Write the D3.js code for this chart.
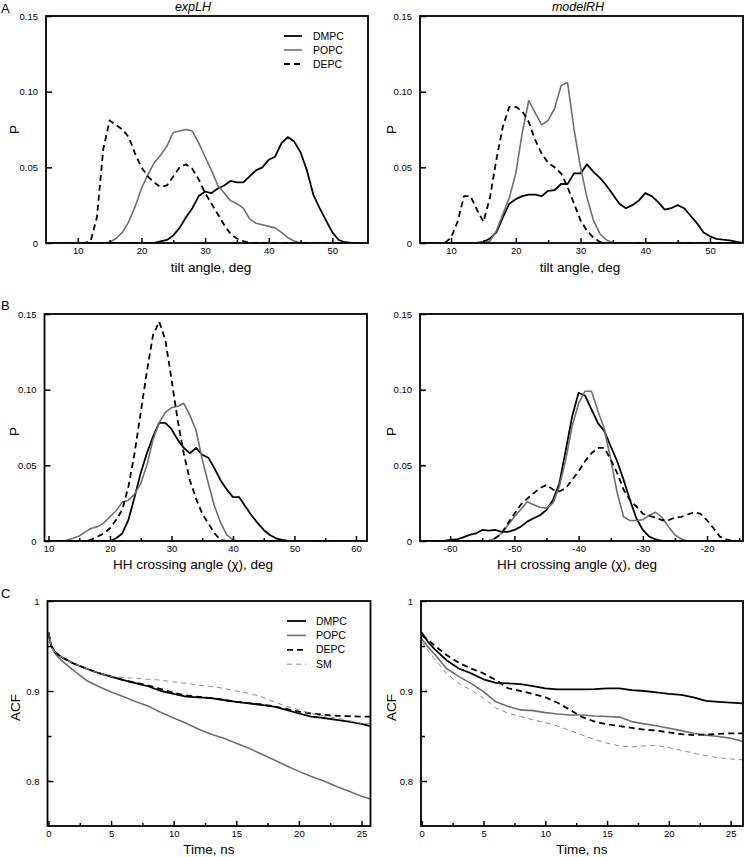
<!DOCTYPE html>
<html><head><meta charset="utf-8">
<script src="https://cdn.jsdelivr.net/npm/d3@7"></script>
<style>
html,body{margin:0;padding:0;background:#fff;}
svg{display:block;font-family:"Liberation Sans",Arial,Helvetica,sans-serif;}
</style></head>
<body>
<svg id="chart" width="745" height="857"></svg>
<script>
// ---------- DATA ----------
const seriesNames = ["DMPC", "POPC", "DEPC", "SM"];

// Panel A, expLH: tilt angle distributions
const tiltAngleExp = d3.range(6, 56); // 6..55 deg
const tiltExpDMPC = [0,0,0,0,0,0,0,0,0,0,0,0,0,0,0,0,0,
  0.001,0.002,0.005,0.010,0.017,0.023,0.031,0.034,0.033,0.036,0.038,0.041,0.040,0.040,0.044,0.048,0.050,0.055,0.057,0.066,0.070,0.067,0.060,0.048,0.032,0.023,0.015,0.007,0.002,0.0005,0,0,0];
const tiltExpPOPC = [0,0,0,0,0,0,0,0,0,
  0.0005,0.003,0.007,0.014,0.024,0.036,0.045,0.053,0.058,0.064,0.073,0.074,0.075,0.074,0.066,0.057,0.048,0.038,0.033,0.028,0.026,0.023,0.016,0.013,0.012,0.011,0.010,0.007,0.0035,0.0013,0.0002,
  0,0,0,0,0,0,0,0,0,0];
const tiltExpDEPC = [0,0,0,0,0,0,
  0.001,0.017,0.062,0.081,0.078,0.075,0.070,0.059,0.050,0.044,0.040,0.037,0.038,0.044,0.050,0.052,0.049,0.042,0.033,0.026,0.019,0.012,0.006,0.003,0.0013,
  0,0,0,0,0,0,0,0,0,0,0,0,0,0,0,0,0,0,0];

// Panel A, modelRH
const tiltAngleModel = d3.range(6, 56);
const tiltModelDMPC = [0,0,0,0,0,0,0,0,0,
  0.0007,0.003,0.007,0.017,0.026,0.029,0.031,0.032,0.032,0.031,0.0345,0.035,0.039,0.039,0.046,0.046,0.052,0.047,0.043,0.038,0.032,0.026,0.023,0.025,0.028,0.033,0.031,0.027,0.022,0.023,0.025,0.023,0.018,0.013,0.007,0.0044,0.0027,0.0022,0.0018,0.0009,0];
const tiltModelPOPC = [0,0,0,0,0,0,0,0,0,0,
  0.0013,0.008,0.019,0.030,0.046,0.073,0.094,0.086,0.078,0.081,0.089,0.104,0.106,0.075,0.050,0.030,0.015,0.006,0.002,0.0002,
  0,0,0,0,0,0,0,0,0,0,0,0,0,0,0,0,0,0,0,0];
const tiltModelDEPC = [0,0,0,0,
  0.0035,0.014,0.031,0.031,0.022,0.014,0.030,0.055,0.077,0.090,0.090,0.087,0.080,0.068,0.059,0.053,0.050,0.046,0.037,0.026,0.015,0.008,0.0035,0.0007,
  0,0,0,0,0,0,0,0,0,0,0,0,0,0,0,0,0,0,0,0,0,0];

// Panel B, expLH: HH crossing angle
const crossAngleExp = d3.range(10, 62); // 10..61
const crossExpDMPC = [0,0,0,0,0,0,0,0,0,0,0,
  0.0018,0.005,0.014,0.029,0.045,0.058,0.069,0.078,0.078,0.074,0.067,0.0615,0.058,0.0615,0.057,0.055,0.048,0.040,0.034,0.029,0.029,0.023,0.017,0.012,0.0073,0.004,0.0018,0.0007,
  0,0,0,0,0,0,0,0,0,0,0,0,0];
const crossExpPOPC = [0,0,0,
  0.0005,0.0018,0.0033,0.006,0.0084,0.0095,0.012,0.016,0.020,0.0257,0.027,0.031,0.038,0.050,0.067,0.078,0.085,0.088,0.089,0.091,0.083,0.073,0.054,0.038,0.023,0.012,0.004,0.0007,
  0,0,0,0,0,0,0,0,0,0,0,0,0,0,0,0,0,0,0,0,0];
const crossExpDEPC = [0,0,0,0,0,0,0,
  0.001,0.003,0.005,0.0084,0.014,0.0206,0.036,0.058,0.085,0.112,0.136,0.145,0.133,0.107,0.080,0.058,0.040,0.028,0.018,0.0117,0.005,0.0007,
  0,0,0,0,0,0,0,0,0,0,0,0,0,0,0,0,0,0,0,0,0,0,0];

// Panel B, modelRH
const crossAngleModel = d3.range(-64, -14); // -64..-15
const crossModelDMPC = [0,0,0,0,
  0.0007,0.001,0.0024,0.004,0.005,0.0073,0.0069,0.0073,0.006,0.006,0.0073,0.0095,0.0128,0.015,0.017,0.0206,0.027,0.038,0.060,0.0825,0.098,0.096,0.087,0.078,0.0726,0.0626,0.0527,0.0405,0.027,0.015,0.0073,0.0029,0.001,
  0,0,0,0,0,0,0,0,0,0,0,0,0];
const crossModelPOPC = [0,0,0,0,0,0,0,0,0,0,0,
  0.0018,0.005,0.0106,0.016,0.021,0.026,0.024,0.0223,0.0217,0.025,0.036,0.054,0.076,0.091,0.099,0.099,0.086,0.074,0.054,0.032,0.016,0.0135,0.0135,0.014,0.017,0.019,0.0155,0.0095,0.004,0.0013,
  0,0,0,0,0,0,0,0,0];
const crossModelDEPC = [0,0,0,0,0,0,0,0,0,0,0,
  0.0018,0.005,0.0117,0.018,0.024,0.028,0.0316,0.035,0.037,0.034,0.0327,0.035,0.0405,0.046,0.0527,0.058,0.0615,0.0615,0.0538,0.045,0.034,0.027,0.0228,0.018,0.0166,0.0155,0.0137,0.0137,0.0155,0.016,0.0175,0.019,0.018,0.0137,0.0084,0.0029,0.001,
  0,0];

// Panel C, expLH: ACF vs time (ns)
const timeExp = [0,0.2,0.5,1,2,3,4,5,6,7,8,9,10,11,12,13,14,15,16,17,18,19,20,21,22,23,24,25,25.7];
const acfExpDMPC = [0.965,0.951,0.9435,0.938,0.9306,0.925,0.920,0.916,0.912,0.9085,0.905,0.900,0.8967,0.8937,0.893,0.892,0.890,0.888,0.8863,0.8845,0.8827,0.879,0.875,0.8716,0.870,0.868,0.866,0.8635,0.861];
const acfExpPOPC = [0.965,0.950,0.9417,0.9343,0.923,0.912,0.905,0.899,0.8937,0.888,0.883,0.876,0.870,0.8642,0.8576,0.852,0.8476,0.842,0.8365,0.830,0.8236,0.817,0.8107,0.805,0.800,0.794,0.7886,0.783,0.780];
const acfExpDEPC = [0.965,0.951,0.9435,0.938,0.9306,0.925,0.920,0.916,0.912,0.909,0.906,0.902,0.898,0.895,0.8935,0.892,0.890,0.888,0.8865,0.885,0.883,0.880,0.877,0.875,0.8735,0.8725,0.872,0.8716,0.8716];
const acfExpSM = [0.965,0.951,0.9435,0.938,0.9306,0.925,0.920,0.916,0.915,0.914,0.913,0.912,0.910,0.9085,0.9066,0.905,0.903,0.900,0.8974,0.8937,0.888,0.883,0.879,0.875,0.8723,0.870,0.867,0.864,0.8635];

// Panel C, modelRH
const timeModel = [0,0.5,1,2,3,4,5,6,7,8,9,10,11,12,13,14,15,16,17,18,19,20,21,22,23,24,25,26];
const acfModelDMPC = [0.965,0.9546,0.947,0.9343,0.925,0.9196,0.913,0.909,0.9085,0.9077,0.9055,0.903,0.9018,0.9018,0.9018,0.902,0.903,0.903,0.901,0.900,0.8985,0.8967,0.8956,0.893,0.889,0.888,0.887,0.8863];
const acfModelPOPC = [0.958,0.949,0.9417,0.925,0.916,0.9085,0.8993,0.888,0.8827,0.879,0.8782,0.876,0.8745,0.8734,0.8734,0.8723,0.8716,0.871,0.866,0.8635,0.8613,0.8587,0.856,0.853,0.851,0.8494,0.8476,0.844];
const acfModelDEPC = [0.962,0.957,0.951,0.940,0.9314,0.925,0.9196,0.9122,0.903,0.900,0.8967,0.893,0.887,0.879,0.871,0.866,0.863,0.861,0.859,0.857,0.856,0.854,0.852,0.851,0.8515,0.8524,0.853,0.853];
const acfModelSM = [0.955,0.945,0.936,0.9196,0.9085,0.901,0.892,0.881,0.8753,0.8716,0.868,0.865,0.861,0.856,0.851,0.846,0.842,0.839,0.838,0.839,0.8395,0.837,0.834,0.831,0.828,0.826,0.8245,0.8235];

// Tick values / labels
const probTicks = [0, 0.05, 0.10, 0.15];
const probTickLabels = ["0", "0.05", "0.10", "0.15"];
const tiltTicks = [10, 20, 30, 40, 50];
const tiltMinor = [15, 25, 35, 45];
const crossExpTicks = [10, 20, 30, 40, 50, 60];
const crossExpMinor = [15, 25, 35, 45, 55];
const crossModelTicks = [-60, -50, -40, -30, -20];
const crossModelMinor = [-55, -45, -35, -25, -15];
const acfTicks = [0.8, 0.9, 1];
const acfTickLabels = ["0.8", "0.9", "1"];
const acfMinor = [0.85, 0.95];
const timeTicks = [0, 5, 10, 15, 20, 25];
const timeMinor = [2.5, 7.5, 12.5, 17.5, 22.5];

// ---------- STYLE ----------
const GRAY = "#6f6f6f";
const styles = {
  DMPC: {stroke: "#000", width: 1.8, dash: null},
  POPC: {stroke: GRAY, width: 1.6, dash: null},
  DEPC: {stroke: "#000", width: 1.8, dash: "6,4"},
  SM:   {stroke: "#8a8a8a", width: 1, dash: "5,4"}
};
const FONT_TICK = 9.5, FONT_LABEL = 13.5;

const svg = d3.select("#chart");

function panel(cfg) {
  const g = svg.append("g");
  const x = d3.scaleLinear().domain(cfg.xDomain).range([cfg.left, cfg.right]);
  const y = d3.scaleLinear().domain(cfg.yDomain).range([cfg.bottom, cfg.top]);

  const cid = "clip" + cfg.id;
  svg.append("clipPath").attr("id", cid).append("rect")
    .attr("x", cfg.left).attr("y", cfg.top - 2)
    .attr("width", cfg.right - cfg.left).attr("height", cfg.bottom - cfg.top + 2);

  const line = d3.line().x(d => x(d[0])).y(d => y(d[1]));
  const lines = g.append("g").attr("clip-path", `url(#${cid})`);
  cfg.series.forEach(s => {
    const st = styles[s.name];
    lines.append("path")
      .datum(cfg.xs.map((v, i) => [v, s.values[i]]))
      .attr("d", line)
      .attr("fill", "none")
      .attr("stroke", st.stroke)
      .attr("stroke-width", st.width)
      .attr("stroke-dasharray", st.dash)
      .attr("stroke-linejoin", "round");
  });

  // axes (inward ticks)
  const xa = g.append("g").attr("transform", `translate(0,${cfg.bottom})`)
    .call(d3.axisBottom(x).tickValues(cfg.xTicks).tickSize(-5).tickPadding(4).tickFormat(d => String(d)));
  const xm = g.append("g").attr("transform", `translate(0,${cfg.bottom})`)
    .call(d3.axisBottom(x).tickValues(cfg.xMinor).tickSize(-3).tickFormat(""));
  const ya = g.append("g").attr("transform", `translate(${cfg.left},0)`)
    .call(d3.axisLeft(y).tickValues(cfg.yTicks).tickSize(-6).tickPadding(8)
      .tickFormat((d, i) => cfg.yLabels[i]));
  let ym = null;
  if (cfg.yMinor) {
    ym = g.append("g").attr("transform", `translate(${cfg.left},0)`)
      .call(d3.axisLeft(y).tickValues(cfg.yMinor).tickSize(-4).tickFormat(""));
  }
  [xa, xm, ya, ym].forEach(a => {
    if (!a) return;
    a.select(".domain").remove();
    a.selectAll("line").attr("stroke", "#000").attr("stroke-width", 1.5);
    a.selectAll("text").attr("font-size", FONT_TICK).attr("fill", "#000")
      .attr("font-family", "Liberation Sans, Arial, sans-serif");
  });

  // frame
  g.append("rect").attr("x", cfg.left).attr("y", cfg.top)
    .attr("width", cfg.right - cfg.left).attr("height", cfg.bottom - cfg.top)
    .attr("fill", "none").attr("stroke", "#000").attr("stroke-width", 1.8);

  // axis titles
  g.append("text").attr("x", cfg.xTitleX).attr("y", cfg.xTitleY)
    .attr("text-anchor", "middle").attr("font-size", FONT_LABEL).text(cfg.xTitle);
  g.append("text")
    .attr("transform", `translate(${cfg.yTitleX},${(cfg.top + cfg.bottom) / 2 + (cfg.yTitleDy || 0)}) rotate(-90)`)
    .attr("text-anchor", "middle").attr("font-size", FONT_LABEL).text(cfg.yTitle);

  // legend
  if (cfg.legend) {
    const L = cfg.legend;
    cfg.series.forEach((s, i) => {
      const st = styles[s.name];
      const yy = L.y + i * L.step;
      g.append("line").attr("x1", L.x).attr("x2", L.x + L.len).attr("y1", yy).attr("y2", yy)
        .attr("stroke", st.stroke).attr("stroke-width", st.width).attr("stroke-dasharray", st.dash);
      g.append("text").attr("x", L.x + L.len + L.gap).attr("y", yy).attr("dy", "0.35em")
        .attr("font-size", 10.5).text(s.name);
    });
  }
  return {x, y};
}

// ---------- PANELS ----------
panel({id: "Al", left: 46, right: 368, top: 16, bottom: 243,
  xDomain: [5, 55.6], yDomain: [0, 0.15],
  xs: tiltAngleExp,
  series: [{name: "DMPC", values: tiltExpDMPC}, {name: "POPC", values: tiltExpPOPC}, {name: "DEPC", values: tiltExpDEPC}],
  xTicks: tiltTicks, xMinor: tiltMinor, yTicks: probTicks, yLabels: probTickLabels,
  xTitle: "tilt angle, deg", xTitleX: 211, xTitleY: 272, yTitle: "P", yTitleX: 19,
  legend: {x: 284, y: 36, step: 14, len: 18, gap: 11}
});
panel({id: "Ar", left: 420, right: 743, top: 16, bottom: 243,
  xDomain: [5.2, 55.1], yDomain: [0, 0.15],
  xs: tiltAngleModel,
  series: [{name: "DMPC", values: tiltModelDMPC}, {name: "POPC", values: tiltModelPOPC}, {name: "DEPC", values: tiltModelDEPC}],
  xTicks: tiltTicks, xMinor: tiltMinor, yTicks: probTicks, yLabels: probTickLabels,
  xTitle: "tilt angle, deg", xTitleX: 580, xTitleY: 272, yTitle: "P", yTitleX: 396
});
panel({id: "Bl", left: 44.5, right: 367, top: 314, bottom: 541,
  xDomain: [9.35, 61.8], yDomain: [0, 0.15],
  xs: crossAngleExp,
  series: [{name: "DMPC", values: crossExpDMPC}, {name: "POPC", values: crossExpPOPC}, {name: "DEPC", values: crossExpDEPC}],
  xTicks: crossExpTicks, xMinor: crossExpMinor, yTicks: probTicks, yLabels: probTickLabels,
  xTitle: "HH crossing angle (\u03C7), deg", xTitleX: 193, xTitleY: 569, yTitle: "P", yTitleX: 19, yTitleDy: 4
});
panel({id: "Br", left: 420, right: 743, top: 314, bottom: 541,
  xDomain: [-64.7, -14.4], yDomain: [0, 0.15],
  xs: crossAngleModel,
  series: [{name: "DMPC", values: crossModelDMPC}, {name: "POPC", values: crossModelPOPC}, {name: "DEPC", values: crossModelDEPC}],
  xTicks: crossModelTicks, xMinor: crossModelMinor, yTicks: probTicks, yLabels: probTickLabels,
  xTitle: "HH crossing angle (\u03C7), deg", xTitleX: 577, xTitleY: 569, yTitle: "P", yTitleX: 396, yTitleDy: 4
});
panel({id: "Cl", left: 47.5, right: 370.5, top: 601, bottom: 826,
  xDomain: [-0.08, 25.72], yDomain: [0.75, 1],
  xs: timeExp,
  series: [{name: "DMPC", values: acfExpDMPC}, {name: "POPC", values: acfExpPOPC}, {name: "DEPC", values: acfExpDEPC}, {name: "SM", values: acfExpSM}],
  xTicks: timeTicks, xMinor: timeMinor, yTicks: acfTicks, yLabels: acfTickLabels, yMinor: acfMinor,
  xTitle: "Time, ns", xTitleX: 209, xTitleY: 854, yTitle: "ACF", yTitleX: 20, yTitleDy: -6,
  legend: {x: 287, y: 621, step: 14.4, len: 19, gap: 10}
});
panel({id: "Cr", left: 421, right: 743, top: 601, bottom: 826,
  xDomain: [-0.06, 26], yDomain: [0.75, 1],
  xs: timeModel,
  series: [{name: "DMPC", values: acfModelDMPC}, {name: "POPC", values: acfModelPOPC}, {name: "DEPC", values: acfModelDEPC}, {name: "SM", values: acfModelSM}],
  xTicks: timeTicks, xMinor: timeMinor, yTicks: acfTicks, yLabels: acfTickLabels, yMinor: acfMinor,
  xTitle: "Time, ns", xTitleX: 582, xTitleY: 854, yTitle: "ACF", yTitleX: 396, yTitleDy: -6
});

// Titles and panel letters
svg.append("text").attr("x", 193).attr("y", 11).attr("text-anchor", "middle")
  .attr("font-size", 12.5).attr("font-style", "italic").text("expLH");
svg.append("text").attr("x", 578).attr("y", 11).attr("text-anchor", "middle")
  .attr("font-size", 12.5).attr("font-style", "italic").text("modelRH");
[["A", 13], ["B", 310], ["C", 598]].forEach(([t, yy]) =>
  svg.append("text").attr("x", 1).attr("y", yy).attr("font-size", 13).text(t));
</script>
</body></html>
